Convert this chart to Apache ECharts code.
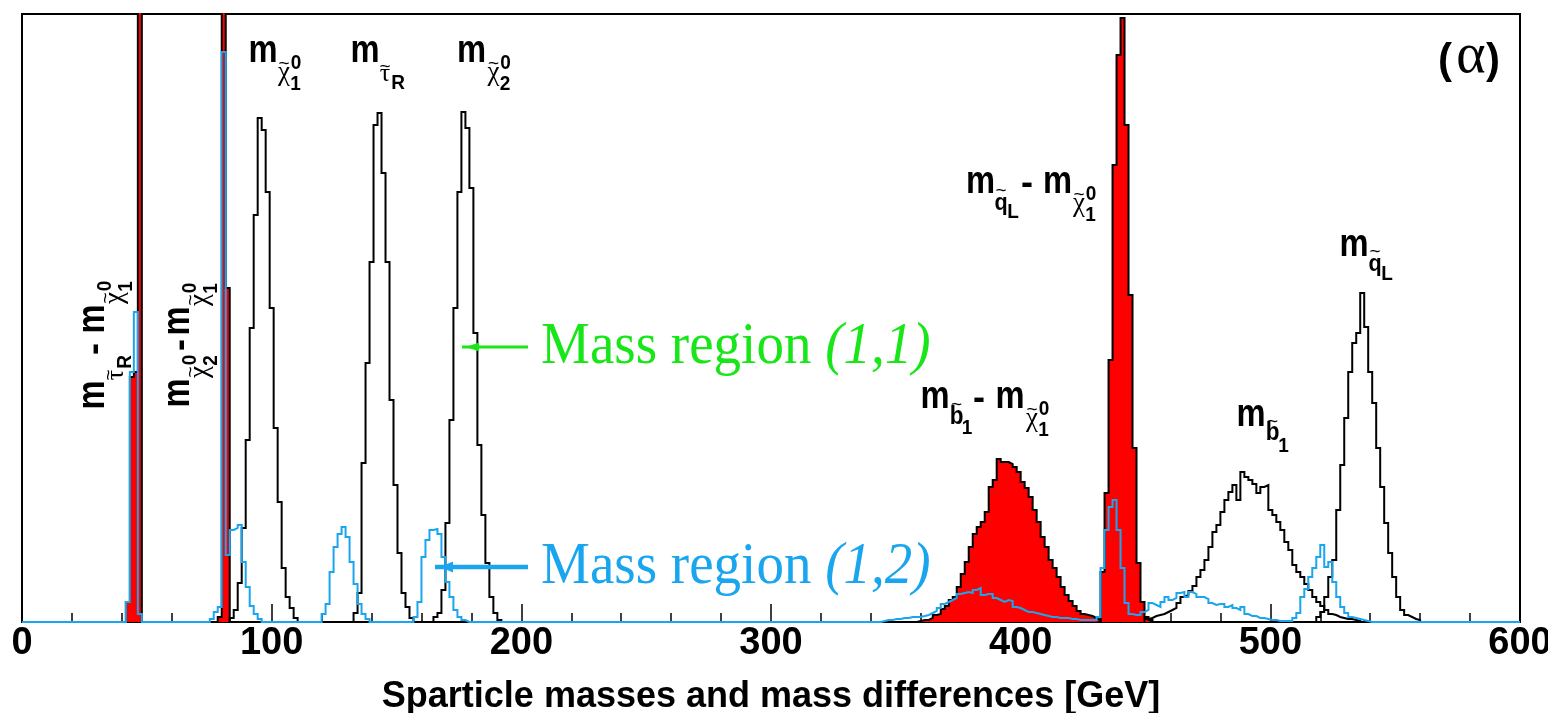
<!DOCTYPE html>
<html>
<head>
<meta charset="utf-8">
<script src="https://cdn.jsdelivr.net/npm/echarts@6/dist/echarts.min.js"></script>
<style>
  html, body { margin: 0; padding: 0; background: #fff; }
  #chart { width: 1548px; height: 713px; }
</style>
</head>
<body>
<div id="chart"></div>
<script>
// ---- binning and axis ----
const BIN = 1.6;                 // GeV per histogram bin
const X_MIN = 0, X_MAX = 600, X_STEP = 100;
const Y_MAX = 608;               // entries per bin at the top of the frame

// ---- mass region (1,1): sparticle masses (black outlines) ----
const chi1Start = 83.2;
const chi1Counts = [4, 12, 39, 94, 182, 294, 407, 504, 492, 430, 314, 194, 120, 54, 25, 14, 4];
const stauStart = 132.8;
const stauCounts = [9, 29, 159, 259, 360, 497, 509, 449, 360, 222, 137, 69, 29, 15, 4];
const chi2Start = 164.8;
const chi2Counts = [5, 9, 32, 99, 202, 314, 430, 510, 494, 434, 289, 177, 107, 59, 25, 9, 2];
const sbottomStart = 449.6;
const sbottomCounts = [3, 4, 6, 7, 8, 10, 12, 14, 19, 25, 27, 31, 36, 45, 52, 62, 75, 90, 97, 110,
  122, 130, 137, 122, 150, 145, 142, 138, 129, 135, 137, 112, 107, 100, 92, 80, 72, 57, 50, 45,
  38, 32, 25, 20, 16, 12, 8, 7, 5, 4, 3, 3, 2, 1];
const squarkStart = 518.4;
const squarkCounts = [5, 10, 25, 45, 62, 112, 157, 204, 250, 279, 289, 329, 295, 250, 219, 174,
  135, 99, 69, 45, 25, 12, 7, 5, 3, 2];

// ---- mass region (1,1): mass differences (red filled) ----
const stauDiffStart = 41.6;
const stauDiffCounts = [20, 245, 250, 1500];
const chi2DiffStart = 78.4;
const chi2DiffCounts = [5, 1400, 334];
const sbottomDiffStart = 358.4;
const sbottomDiffCounts = [1, 2, 2, 4, 7, 8, 13, 16, 22, 25, 35, 48, 60, 75, 88, 95, 100, 110, 135, 142,
  163, 160, 160, 158, 155, 150, 140, 134, 125, 112, 100, 85, 75, 62, 54, 45, 35, 27, 21, 16,
  11, 8, 7, 6, 4, 2];
const squarkDiffStart = 432;
const squarkDiffCounts = [50, 129, 262, 457, 567, 604, 497, 327, 174, 59, 20, 5, 2];

// ---- mass region (1,2): all distributions (blue outline) ----
const r2StauDiffStart = 41.6;
const r2StauDiffCounts = [20, 250, 310, 8];
const r2Chi2DiffStart = 75.2;
const r2Chi2DiffCounts = [3, 10, 15, 570];
const r2Chi1Start = 81.6;
const r2Chi1Counts = [67, 92, 94, 97, 60, 35, 16, 8, 3];
const r2StauStart = 120;
const r2StauCounts = [8, 18, 50, 75, 88, 95, 85, 60, 38, 18, 8, 3];
const r2Chi2Start = 156.8;
const r2Chi2Counts = [5, 20, 65, 82, 92, 93, 88, 65, 40, 25, 12, 5, 2];
const r2SbottomDiffStart = 344;
const r2SbottomDiffCounts = [1, 2, 2, 3, 3, 4, 4, 5, 5, 5, 6, 7, 9, 11, 14, 18, 20, 22, 24, 28,
  29, 30, 29, 32, 34, 27, 28, 28, 24, 22, 20, 22, 21, 15, 14, 12, 10, 10, 9, 8,
  7, 6, 5, 5, 4, 4, 4, 3, 3, 2, 2, 2, 2, 2];
const r2SquarkDiffStart = 430.4;
const r2SquarkDiffCounts = [5, 54, 92, 115, 122, 92, 54, 19, 8, 7, 7, 10];
const r2SbottomStart = 449.6;
const r2SbottomCounts = [12, 19, 17, 15, 20, 25, 22, 24, 29, 30, 25, 30, 28, 25, 25, 23, 19, 17, 18, 18,
  15, 17, 14, 12, 15, 8, 6, 6, 4, 4, 3, 2, 2, 1, 1, 1, 1];
const r2SquarkStart = 508.8;
const r2SquarkCounts = [4, 9, 25, 33, 45, 54, 65, 77, 55, 60, 40, 25, 15, 9, 5, 4, 3, 2, 1];

// ---- colours and fonts ----
const RED = '#ff0000';
const BLUE = '#1aa6ee';
const GREEN = '#19e619';
const SANS = "'Liberation Sans',Arial,Helvetica,sans-serif";
const SERIF = "'Liberation Serif','Times New Roman',serif";

// histogram outline as step points: rises at the first edge, falls at the last
function toSteps(start, counts) {
  const pts = [[start, 0]];
  counts.forEach((c, i) => pts.push([+(start + i * BIN).toFixed(3), c]));
  pts.push([+(start + counts.length * BIN).toFixed(3), 0]);
  return pts;
}

// one full-range histogram built from several pieces (shares a zero baseline)
function fullRange(pieces) {
  const n = Math.round((X_MAX - X_MIN) / BIN);
  const bins = new Array(n).fill(0);
  pieces.forEach(([start, counts]) => {
    const k0 = Math.round((start - X_MIN) / BIN);
    counts.forEach((c, i) => { bins[k0 + i] += c; });
  });
  return toSteps(X_MIN, bins);
}

function histSeries(pts, color, fill, z) {
  const s = {
    type: 'line', step: 'end', data: pts, showSymbol: false, symbol: 'none',
    silent: true, z: z, clip: true,
    lineStyle: { color: color, width: 2, cap: 'butt', join: 'miter' }
  };
  if (fill) s.areaStyle = { color: fill, opacity: 1 };
  return s;
}

const series = [
  histSeries(toSteps(stauDiffStart, stauDiffCounts), '#000', RED, 2),
  histSeries(toSteps(chi2DiffStart, chi2DiffCounts), '#000', RED, 2),
  histSeries(toSteps(sbottomDiffStart, sbottomDiffCounts), '#000', RED, 2),
  histSeries(toSteps(squarkDiffStart, squarkDiffCounts), '#000', RED, 2),
  histSeries(toSteps(chi1Start, chi1Counts), '#000', null, 3),
  histSeries(toSteps(stauStart, stauCounts), '#000', null, 3),
  histSeries(toSteps(chi2Start, chi2Counts), '#000', null, 3),
  histSeries(toSteps(sbottomStart, sbottomCounts), '#000', null, 3),
  histSeries(toSteps(squarkStart, squarkCounts), '#000', null, 3),
  histSeries(fullRange([
    [r2StauDiffStart, r2StauDiffCounts], [r2Chi2DiffStart, r2Chi2DiffCounts],
    [r2Chi1Start, r2Chi1Counts], [r2StauStart, r2StauCounts], [r2Chi2Start, r2Chi2Counts],
    [r2SbottomDiffStart, r2SbottomDiffCounts], [r2SquarkDiffStart, r2SquarkDiffCounts],
    [r2SbottomStart, r2SbottomCounts], [r2SquarkStart, r2SquarkCounts]
  ]), BLUE, null, 4)
];

// ---- particle-symbol labels: glyph kinds with vertical offsets to their visual centre ----
const GLYPH = {
  m:     { size: 38, weight: 'bold',   family: SANS,  dy: -3.3, sx: 0.86 },
  dash:  { size: 36, weight: 'bold',   family: SANS,  dy: -2.5, sx: 1 },
  sub:   { size: 20, weight: 'bold',   family: SANS,  dy: 0, sx: 0.95 },
  q:     { size: 24, weight: 'bold',   family: SANS,  dy: -4, sx: 0.9 },
  b:     { size: 25, weight: 'bold',   family: SANS,  dy: 0, sx: 0.9 },
  chi:   { size: 27, weight: 'normal', family: SERIF, dy: -6.5, sx: 1 },
  tau:   { size: 26, weight: 'normal', family: SERIF, dy: -3, sx: 1 },
  tilde: { size: 19, weight: 'normal', family: SANS,  dy: 0, sx: 1 }
};
function glyphEl([text, x, y, kind]) {
  const g = GLYPH[kind];
  return {
    type: 'text', x: x, y: y + g.dy, scaleX: g.sx, silent: true,
    style: {
      text: text, fill: '#000', fontSize: g.size, fontWeight: g.weight, fontFamily: g.family,
      align: 'center', verticalAlign: 'middle', textAlign: 'center', textVerticalAlign: 'middle'
    }
  };
}
function label(x, y, glyphs, rotation) {
  return { type: 'group', x: x, y: y, rotation: rotation || 0, z: 100, children: glyphs.map(glyphEl) };
}
const chiTerm = (dx, lower) => [
  ['~', dx, 9, 'tilde'], ['0', dx + 12, 8, 'sub'], ['χ', dx, 24.5, 'chi'], [lower, dx + 11.5, 29, 'sub']
];

const labels = [
  label(263, 55, [['m', 0, 0, 'm'], ...chiTerm(21, '1')]),
  label(365, 55, [['m', 0, 0, 'm'], ['~', 20, 12, 'tilde'], ['τ', 20, 22, 'tau'], ['R', 33, 28, 'sub']]),
  label(471.5, 55, [['m', 0, 0, 'm'], ...chiTerm(22, '2')]),
  label(980.5, 186, [['m', 0, 0, 'm'], ['~', 20.5, 5, 'tilde'], ['q', 20.5, 21, 'q'], ['L', 32.5, 26, 'sub'],
    ['-', 46.5, 1, 'dash'], ['m', 77, 0, 'm'], ...chiTerm(98.5, '1')]),
  label(935, 401, [['m', 0, 0, 'm'], ['~', 21.5, 4, 'tilde'], ['b', 21.5, 16, 'b'], ['1', 32, 27, 'sub'],
    ['-', 44, 1, 'dash'], ['m', 75, 0, 'm'], ...chiTerm(97, '1')]),
  label(1251, 419, [['m', 0, 0, 'm'], ['~', 21.5, 3, 'tilde'], ['b', 21.5, 14.5, 'b'], ['1', 32.5, 27, 'sub']]),
  label(1354, 249, [['m', 0, 0, 'm'], ['~', 21, 3, 'tilde'], ['q', 21, 19, 'q'], ['L', 33, 25, 'sub']]),
  label(97, 395, [['m', 0, 0, 'm'], ['~', 20, 12, 'tilde'], ['τ', 20, 22, 'tau'], ['R', 33, 28, 'sub'],
    ['-', 46, 1, 'dash'], ['m', 76, 0, 'm'], ...chiTerm(97, '1')], Math.PI / 2),
  label(182, 393, [['m', 0, 0, 'm'], ...chiTerm(21, '2'),
    ['-', 48, 2, 'dash'], ['m', 72, 0, 'm'], ...chiTerm(93, '1')], Math.PI / 2)
];

// panel tag
const tag = {
  type: 'group', x: 0, y: 0, z: 100, children: [
    { type: 'text', x: 1445, y: 61, style: { text: '(', fill: '#000', fontSize: 42, fontWeight: 'bold', fontFamily: SANS, align: 'center', verticalAlign: 'middle' } },
    { type: 'text', x: 1471, y: 57, style: { text: 'α', fill: '#000', fontSize: 56, fontFamily: SERIF, align: 'center', verticalAlign: 'middle' } },
    { type: 'text', x: 1493, y: 61, style: { text: ')', fill: '#000', fontSize: 42, fontWeight: 'bold', fontFamily: SANS, align: 'center', verticalAlign: 'middle' } }
  ]
};

// region legends with arrows pointing at the histograms
function regionNote(text, x, y, color, lineX1, lineX2, tipX, baseX, half, width) {
  return [
    { type: 'line', z: 100, silent: true, shape: { x1: lineX1, y1: y, x2: lineX2, y2: y }, style: { stroke: color, lineWidth: width } },
    { type: 'polygon', z: 100, silent: true, shape: { points: [[tipX, y], [baseX, y - half], [baseX, y + half]] }, style: { fill: color } },
    {
      type: 'text', z: 100, x: x, y: y, scaleY: 1.08, silent: true,
      style: {
        text: '{u|Mass region }{i|' + text + '}', fill: color, align: 'left', verticalAlign: 'middle',
        textAlign: 'left', textVerticalAlign: 'middle',
        rich: {
          u: { fontSize: 55, fontFamily: SERIF, fill: color },
          i: { fontSize: 55, fontFamily: SERIF, fontStyle: 'italic', fill: color }
        }
      }
    }
  ];
}

const graphics = [
  ...labels, tag,
  ...regionNote('(1,1)', 541, 347, GREEN, 462, 528, 466, 479, 4.5, 3),
  ...regionNote('(1,2)', 541, 567, BLUE, 435, 528, 440, 453, 5.5, 4.5)
];

const chart = echarts.init(document.getElementById('chart'), null, { renderer: 'canvas' });
chart.setOption({
  animation: false,
  backgroundColor: '#ffffff',
  grid: {
    left: 22, right: 28, top: 14, bottom: 91, outerBoundsMode: 'none', containLabel: false,
    show: true, borderColor: '#000', borderWidth: 2, backgroundColor: 'transparent'
  },
  xAxis: {
    type: 'value', min: X_MIN, max: X_MAX, interval: X_STEP,
    axisLine: { show: true, onZero: false, lineStyle: { color: '#000', width: 2 } },
    axisTick: { show: true, inside: true, length: 18, lineStyle: { color: '#000', width: 1.5 } },
    minorTick: { show: true, splitNumber: 5, length: 9, lineStyle: { color: '#000', width: 1.5 } },
    splitLine: { show: false },
    minorSplitLine: { show: false },
    axisLabel: { show: true, color: '#000', fontSize: 38, fontWeight: 'bold', fontFamily: SANS, margin: 3, showMinLabel: true, showMaxLabel: true },
    name: 'Sparticle masses and mass differences [GeV]',
    nameLocation: 'middle', nameGap: 57,
    nameTextStyle: { color: '#000', fontSize: 36, fontWeight: 'bold', fontFamily: SANS }
  },
  yAxis: { type: 'value', min: 0, max: Y_MAX, show: false },
  series: series,
  graphic: graphics
});
</script>
</body>
</html>
